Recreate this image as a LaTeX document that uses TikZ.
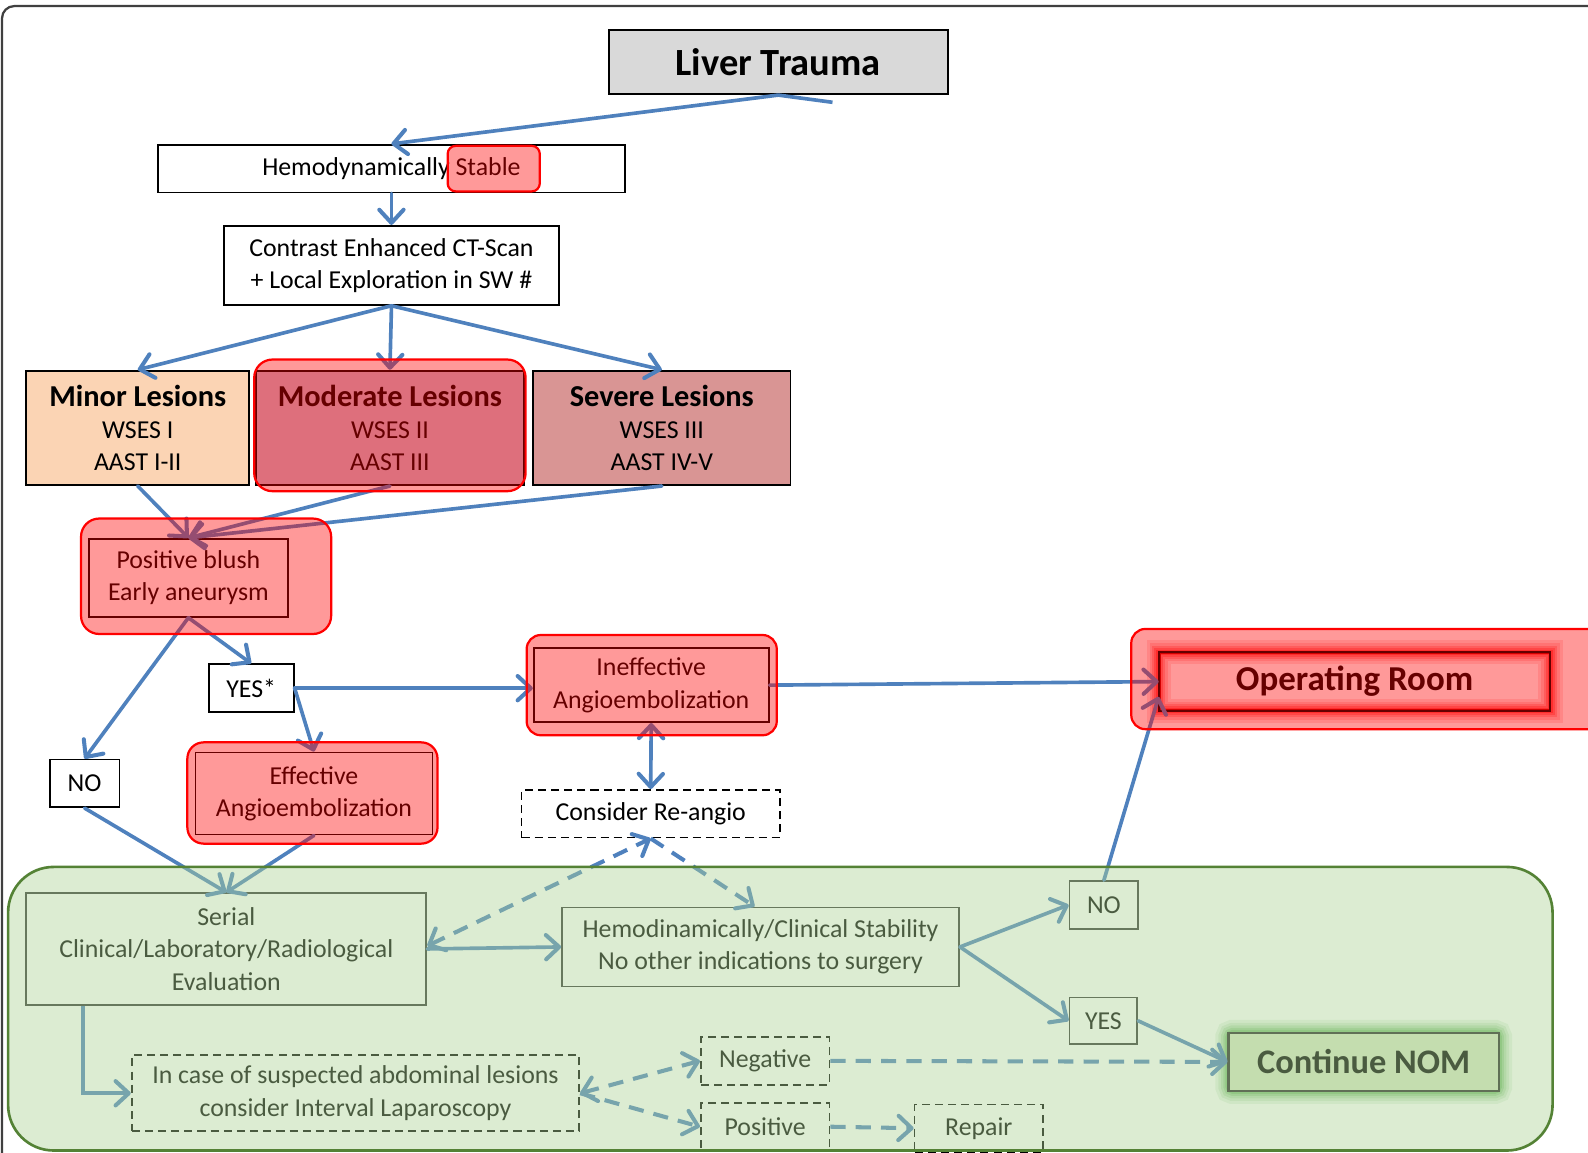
\documentclass[tikz,border=0pt]{standalone}
\usepackage{fontspec}
\setmainfont{Carlito}
\usetikzlibrary{arrows.meta}

\definecolor{flowblue}{RGB}{79,129,189}
\definecolor{liverfill}{RGB}{217,217,217}
\definecolor{minorfill}{RGB}{251,212,180}
\definecolor{moderatefill}{RGB}{200,185,208}
\definecolor{severefill}{RGB}{217,149,148}
\definecolor{nomfill}{RGB}{215,230,195}
\definecolor{nomglow}{RGB}{56,157,45}
\definecolor{zonefill}{RGB}{173,211,150}
\definecolor{zoneedge}{RGB}{84,130,53}

\newcommand\bodyfont{\fontsize{25.5}{32}\selectfont}
\newcommand\headfont{\fontsize{30}{32}\selectfont\bfseries}

\begin{document}
\begin{tikzpicture}[x=1pt,y=-1pt,
  box/.style={draw=black, line width=1.8, inner sep=0pt, align=center, font=\bodyfont},
  dbox/.style={box, dash pattern=on 8pt off 5pt},
  tip/.tip={Straight Barb[length=13pt,width=24pt,line width=4pt,round]},
  flow/.style={draw=flowblue, line width=3.6, line cap=round, -tip},
  dflow/.style={flow, line cap=butt, dash pattern=on 15pt off 10pt, line width=4},
  redover/.style={fill=red, fill opacity=0.4, draw=red, draw opacity=1, line width=2.2},
]
\useasboundingbox (0,0) rectangle (1568,1138);
\clip (0,0) rectangle (1568,1138);

% page frame
\draw[line width=2.2, black!75, rounded corners=12] (2,6) rectangle (1600,1200);

% ---------- upper part of the flow ----------
\node[box, fill=liverfill, minimum width=335, minimum height=63,
      font=\fontsize{38}{40}\selectfont\bfseries] (liver) at (768.5,61.5) {Liver Trauma};
\node[box, minimum width=461, minimum height=47] (hemo) at (386.5,166.5)
  {Hemodynamically Stable};
\node[box, minimum width=331, minimum height=78] (ct) at (386.5,262)
  {Contrast Enhanced CT-Scan\\+ Local Exploration in SW \#};

\node[box, fill=minorfill, minimum width=220, minimum height=113] (minor) at (136,422.5)
  {{\headfont Minor Lesions}\\WSES I\\AAST I-II};
\node[box, fill=moderatefill, minimum width=264, minimum height=113] (moderate) at (385,422.5)
  {{\headfont Moderate Lesions}\\WSES II\\AAST III};
\node[box, fill=severefill, minimum width=254, minimum height=113] (severe) at (653.5,422.5)
  {{\headfont Severe Lesions}\\WSES III\\AAST IV-V};

\node[box, minimum width=196, minimum height=77] (blush) at (186,570.5)
  {Positive blush\\Early aneurysm};
\node[box, minimum width=84, minimum height=47] (yesA) at (248,679.5) {YES*};
\node[box, minimum width=69, minimum height=47] (noA) at (83.5,773.5) {NO};
\node[box, minimum width=234, minimum height=81] (eff) at (310,783.5)
  {Effective\\Angioembolization};
\node[box, minimum width=232, minimum height=73] (ineff) at (643,676.5)
  {Ineffective\\Angioembolization};
\node[dbox, minimum width=255, minimum height=47] (reangio) at (642.5,803.5)
  {Consider Re-angio};
\node[box, minimum width=385, minimum height=56,
      font=\fontsize{34.5}{36}\selectfont\bfseries] (or) at (1337.5,673) {Operating Room};

% soft red glow round the operating room box
\foreach \w/\o in {24/0.12,18/0.15,13/0.2,9/0.25,5/0.35}
  \draw[red, line width=\w, opacity=\o] (or.south west) rectangle (or.north east);
\draw[black, line width=2] (or.south west) rectangle (or.north east);

% ---------- observation zone ----------
\node[box, draw=black!80, minimum width=395, minimum height=110] (serial) at (223.5,937)
  {Serial\\Clinical/Laboratory/Radiological\\Evaluation};
\node[box, draw=black!80, minimum width=392, minimum height=78] (stab) at (751,935)
  {Hemodinamically/Clinical Stability\\No other indications to surgery};
\node[box, draw=black!80, minimum width=68, minimum height=47] (noB) at (1090,893.5) {NO};
\node[box, draw=black!80, minimum width=67, minimum height=46] (yesB) at (1089.5,1008) {YES};
\node[dbox, minimum width=442, minimum height=75] (lap) at (351,1079.5)
  {In case of suspected abdominal lesions\\consider Interval Laparoscopy};
\node[dbox, minimum width=127, minimum height=47] (neg) at (755.5,1047.5) {Negative};
\node[dbox, minimum width=127, minimum height=47] (pos) at (755.5,1112.5) {Positive};
\node[dbox, minimum width=127, minimum height=47] (repair) at (966.5,1114) {Repair};

% soft green glow round the final box
\foreach \w/\o in {26/0.1,20/0.13,15/0.17,10/0.22,6/0.3}
  \draw[nomglow, line width=\w, opacity=\o, rounded corners=4] (1213,1020) rectangle (1480,1077);
\node[box, draw=black!85, line width=2.2, fill=nomfill, minimum width=267, minimum height=57,
      font=\fontsize{34}{36}\selectfont\bfseries] (nom) at (1346.5,1048.5) {Continue NOM};

% ---------- connectors ----------
\coordinate (stray) at (822,101);
\draw[flowblue, line width=3.6] (liver.south) -- (stray);
\draw[flow] (liver.south) -- (hemo.north);
\draw[flow] (hemo.south) -- (ct.north);
\draw[flow] (ct.south) -- (minor.north);
\draw[flow] ([yshift=-2pt]ct.south) -- (moderate.north);
\draw[flow] (ct.south) -- (severe.north);
\draw[flow] (minor.south) -- (blush.north);
\draw[flow] (moderate.south) -- (blush.north);
\draw[flow] (severe.south) -- (blush.north);
\draw[flow] (blush.south) -- (yesA.north);
\draw[flow] (blush.south) -- (noA.north);
\draw[flow] (yesA.east) -- (yesA.east -| ineff.west);
\draw[flow] (yesA.east) -- (eff.north);
\draw[flow] (ineff.east) -- (or.west);
\draw[flow, tip-tip] (ineff.south) -- (reangio.north);
\draw[flow] (noA.south) -- (serial.north);
\draw[flow] (eff.south) -- (serial.north);
\draw[flow] (serial.east) -- (stab.west);
\draw[dflow, tip-tip] ([yshift=3pt]serial.east) -- (reangio.south);
\draw[dflow] (reangio.south) -- ([xshift=-6pt]stab.north);
\draw[flow] (stab.east) -- (noB.west);
\draw[flow] (stab.east) -- (yesB.west);
\draw[flow] (noB.north) -- ([yshift=-15pt]or.west);
\draw[flow] (yesB.east) -- (nom.west);
\draw[flow, line cap=butt] ([xshift=57pt]serial.south west) |- (lap.west);
\draw[dflow, tip-tip] (lap.east) -- (neg.west);
\draw[dflow] (lap.east) -- (pos.west);
\draw[dflow] (neg.east) -- (nom.west);
\draw[dflow] (pos.east) -- (repair.west);

% ---------- highlight overlays ----------
\path[redover, rounded corners=8]  (442,144) rectangle (533,189);
\path[redover, rounded corners=18] (251,355) rectangle (519,485);
\path[redover, rounded corners=18] (80,512) rectangle (327,626);
\path[redover, rounded corners=14] (520,627) rectangle (767,726);
\path[redover, rounded corners=16] (185,733) rectangle (432,833);
\path[redover, rounded corners=14] (1117,621) rectangle (1600,720);

\path[fill=zonefill, fill opacity=0.43, draw=zoneedge, draw opacity=1, line width=2.6,
      rounded corners=45] (8,856) rectangle (1533,1136);
\end{tikzpicture}
\end{document}
